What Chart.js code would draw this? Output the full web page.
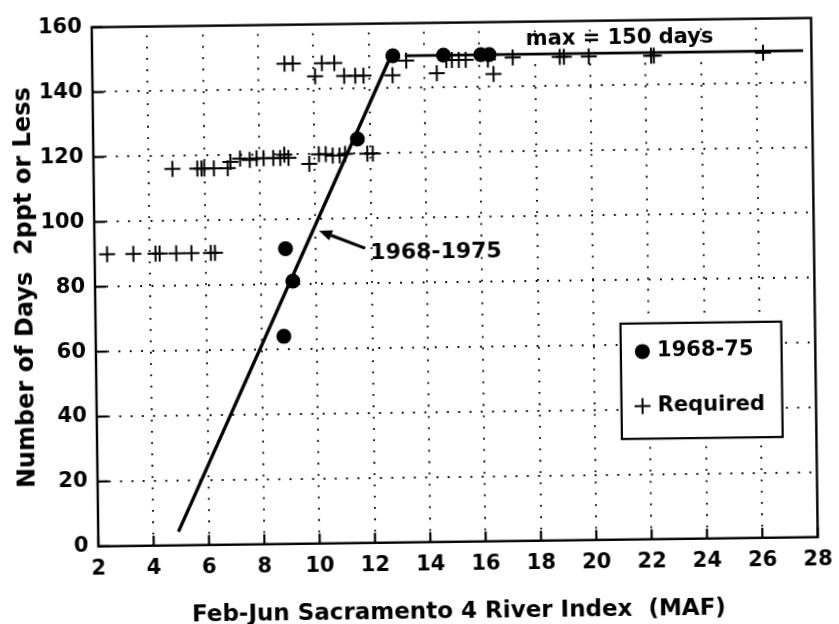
<!DOCTYPE html>
<html><head><meta charset="utf-8">
<script src="https://cdn.jsdelivr.net/npm/chart.js@4.4.1/dist/chart.umd.min.js"></script>
<style>
html,body{margin:0;padding:0;background:#fff;width:839px;height:624px;overflow:hidden}
#wrap{position:absolute;left:0;top:0;width:839px;height:624px;transform:rotate(-0.74deg);transform-origin:456px 280px;background:#fff}
canvas{display:block}
</style></head><body>
<div id="wrap"><canvas id="chart" width="839" height="624"></canvas></div>
<script>
// ---- tick labels ----
const xTickValues = [2, 4, 6, 8, 10, 12, 14, 16, 18, 20, 22, 24, 26, 28];
const yTickValues = [0, 20, 40, 60, 80, 100, 120, 140, 160];

// ---- 1968-75 observed ----
const obsX = [8.8, 8.9, 9.15, 11.55, 12.87, 14.7, 16.05, 16.35];
const obsY = [64, 91, 81, 124.5, 150, 150, 150, 150];

// ---- Required ----
const reqX = [
  2.45, 3.4, 4.2, 4.35, 4.95, 5.5, 6.2, 6.35,
  4.85, 5.75, 5.9, 6.0, 6.35, 6.85, 6.95, 7.3, 7.65, 7.9, 8.15, 8.5, 8.75, 8.9, 9.05, 9.8, 10.15, 10.4, 10.65, 10.9, 11.1, 11.9, 12.1,
  8.95, 9.25, 10.3, 10.75, 13.35, 14.8, 15.0, 15.25, 15.5, 16.3, 17.2, 18.9, 19.05, 19.95, 22.2, 22.3, 26.25,
  10.05, 11.1, 11.5, 11.8, 12.85, 14.45, 16.5
];
const reqY = [
  90, 90, 90, 90, 90, 90, 90, 90,
  116, 116, 116, 116, 116, 116, 118, 119, 118.5, 119, 119, 119, 119, 120, 119, 117, 120, 120, 119.5, 119.5, 120, 120, 120,
  148, 148, 148, 148, 148.5, 148.5, 148.5, 148.5, 148.5, 148.5, 149, 149, 149, 149, 149, 149, 149.5,
  144, 144, 144, 144, 144, 144.5, 144
];

// ---- fitted 1968-1975 line and max line ----
const fitX = [4.9, 12.8];
const fitY = [4.2, 150];
const maxX = [13.3, 27.7];
const maxY = [150, 150];

// ---- texts ----
const legendLabels = ['1968-75', 'Required'];
const xTitle = 'Feb-Jun Sacramento 4 River Index  (MAF)';
const yTitle = 'Number of Days  2ppt or Less';
const fitLabel = '1968-1975';
const maxLabel = 'max = 150 days';

const FONT = '"DejaVu Sans", sans-serif';
const INK = '#000';
const pts = (xs, ys) => xs.map((v, i) => ({x: v, y: ys[i]}));

const decor = {
  id: 'decor',
  beforeDatasetsDraw(chart) {
    const {ctx, chartArea: a, scales: {x, y}} = chart;
    ctx.save();
    ctx.strokeStyle = INK;
    ctx.lineWidth = 1.8;
    ctx.setLineDash([1.8, 9.5]);
    xTickValues.forEach(v => {
      if (v === x.min || v === x.max) return;
      const px = Math.round(x.getPixelForValue(v));
      ctx.beginPath(); ctx.moveTo(px, a.bottom); ctx.lineTo(px, a.top); ctx.stroke();
    });
    yTickValues.forEach(v => {
      if (v === y.min || v === y.max) return;
      const py = Math.round(y.getPixelForValue(v));
      ctx.beginPath(); ctx.moveTo(a.left, py); ctx.lineTo(a.right, py); ctx.stroke();
    });
    ctx.setLineDash([]);
    ctx.lineWidth = 2.2;
    xTickValues.forEach(v => {
      const px = x.getPixelForValue(v);
      ctx.beginPath(); ctx.moveTo(px, a.bottom); ctx.lineTo(px, a.bottom - 10); ctx.stroke();
    });
    yTickValues.forEach(v => {
      const py = y.getPixelForValue(v);
      ctx.beginPath(); ctx.moveTo(a.left, py); ctx.lineTo(a.left + 11, py); ctx.stroke();
    });
    ctx.lineWidth = 2.4;
    ctx.strokeRect(a.left, a.top, a.right - a.left, a.bottom - a.top);
    ctx.restore();
  },
  afterDatasetsDraw(chart) {
    const {ctx, scales: {x, y}} = chart;
    const P = (vx, vy) => [x.getPixelForValue(vx), y.getPixelForValue(vy)];
    ctx.save();
    ctx.fillStyle = INK; ctx.strokeStyle = INK;

    // arrow to fitted line
    const [tx, ty] = P(10.12, 96.4);
    const [sx, sy] = P(11.78, 90.8);
    const ang = Math.atan2(ty - sy, tx - sx);
    const hl = 13, hw = 5.5;
    const bx = tx - hl * Math.cos(ang), by = ty - hl * Math.sin(ang);
    ctx.lineWidth = 3.2;
    ctx.beginPath(); ctx.moveTo(sx, sy); ctx.lineTo(bx, by); ctx.stroke();
    ctx.beginPath();
    ctx.moveTo(tx, ty);
    ctx.lineTo(bx + hw * Math.sin(ang), by - hw * Math.cos(ang));
    ctx.lineTo(bx - hw * Math.sin(ang), by + hw * Math.cos(ang));
    ctx.closePath(); ctx.fill();

    ctx.font = 'bold 22px ' + FONT;
    ctx.textAlign = 'left'; ctx.textBaseline = 'middle';
    const [lx, ly] = P(11.96, 89.3);
    ctx.fillText(fitLabel, lx, ly);

    ctx.font = 'bold 21px ' + FONT;
    ctx.textBaseline = 'alphabetic';
    const [mx, my] = P(17.68, 152.9);
    ctx.fillText(maxLabel, mx, my);

    // legend box
    const [b1x, b1y] = P(20.97, 66.55);
    const [b2x, b2y] = P(26.78, 31.0);
    ctx.fillStyle = '#fff';
    ctx.fillRect(b1x, b1y, b2x - b1x, b2y - b1y);
    ctx.lineWidth = 2.2;
    ctx.strokeRect(b1x, b1y, b2x - b1x, b2y - b1y);
    ctx.fillStyle = INK;
    const [d1x, d1y] = P(21.75, 57.9);
    ctx.beginPath(); ctx.arc(d1x, d1y, 7.5, 0, Math.PI * 2); ctx.fill();
    const [d2x, d2y] = P(21.73, 41.1);
    ctx.lineWidth = 2;
    ctx.beginPath(); ctx.moveTo(d2x - 8, d2y); ctx.lineTo(d2x + 8, d2y);
    ctx.moveTo(d2x, d2y - 8); ctx.lineTo(d2x, d2y + 8); ctx.stroke();
    ctx.font = 'bold 21px ' + FONT;
    ctx.textBaseline = 'middle';
    const [t1x, t1y] = P(22.28, 57.9);
    ctx.fillText(legendLabels[0], t1x, t1y);
    const [t2x, t2y] = P(22.28, 41.1);
    ctx.fillText(legendLabels[1], t2x, t2y);
    ctx.restore();
  }
};

new Chart(document.getElementById('chart'), {
  type: 'scatter',
  data: {
    datasets: [
      {label: 'fit', data: pts(fitX, fitY), showLine: true, borderColor: INK, borderWidth: 3.4, pointRadius: 0, fill: false},
      {label: 'max', data: pts(maxX, maxY), showLine: true, borderColor: INK, borderWidth: 2.8, pointRadius: 0, fill: false},
      {label: legendLabels[1], data: pts(reqX, reqY), pointStyle: 'cross', pointRadius: 8, borderWidth: 2, borderColor: INK, backgroundColor: INK},
      {label: legendLabels[0], data: pts(obsX, obsY), pointStyle: 'circle', pointRadius: 7.5, borderWidth: 0, backgroundColor: INK}
    ]
  },
  options: {
    responsive: false,
    animation: false,
    layout: {padding: {top: 18.75, right: 21, left: 0, bottom: 0}},
    plugins: {legend: {display: false}, tooltip: {enabled: false}},
    scales: {
      x: {
        type: 'linear', position: 'bottom', min: 2, max: 28,
        afterBuildTicks: s => { s.ticks = xTickValues.map(v => ({value: v})); },
        afterFit: s => { s.height = 82.25; },
        grid: {display: false, drawTicks: false},
        border: {display: false},
        ticks: {color: INK, padding: 10, maxRotation: 0, autoSkip: false, font: {family: FONT, size: 21, weight: 'bold'}},
        title: {display: true, text: xTitle, color: INK, padding: 0, font: {family: FONT, size: 23, weight: 'bold', lineHeight: 1}}
      },
      y: {
        type: 'linear', position: 'left', min: 0, max: 160,
        afterBuildTicks: s => { s.ticks = yTickValues.map(v => ({value: v})); },
        afterFit: s => { s.width = 95; },
        grid: {display: false, drawTicks: false},
        border: {display: false},
        ticks: {color: INK, padding: 10, font: {family: FONT, size: 21, weight: 'bold'}},
        title: {display: true, text: yTitle, color: INK, padding: {top: 14, bottom: 0}, font: {family: FONT, size: 24, weight: 'bold', lineHeight: 1}}
      }
    }
  },
  plugins: [decor]
});
</script>
</body></html>
